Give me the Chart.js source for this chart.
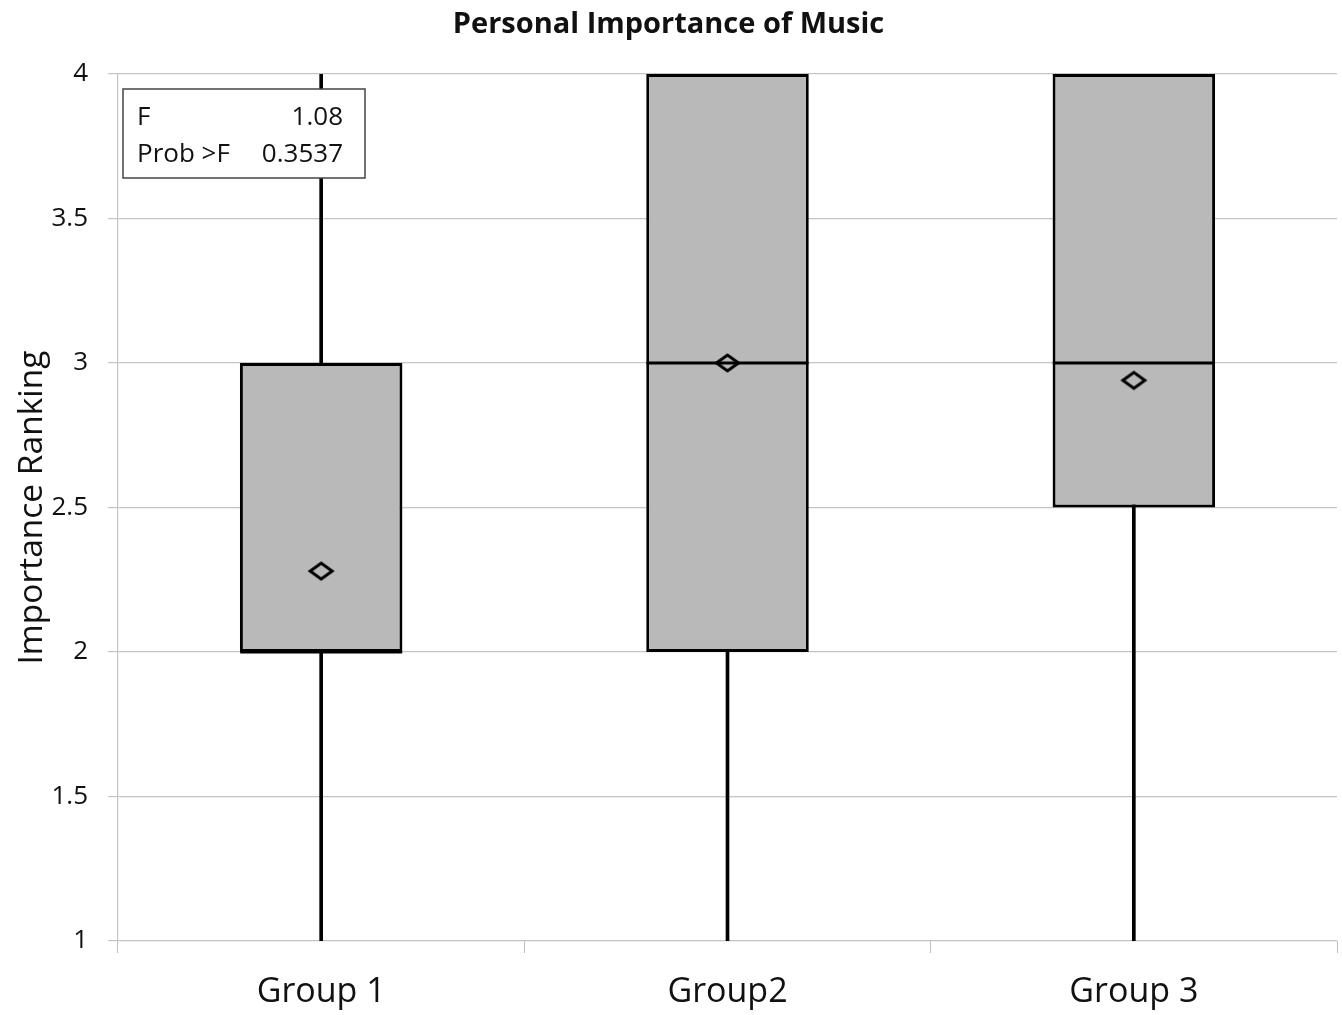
<!DOCTYPE html>
<html>
<head>
<meta charset="utf-8">
<style>
  html, body { margin: 0; padding: 0; background: #fff; }
  #wrap { width: 1342px; height: 1015px; }
</style>
<script src="https://cdn.jsdelivr.net/npm/chart.js@4/dist/chart.umd.min.js"></script>
</head>
<body>
<div id="wrap"><canvas id="c" width="1342" height="1015"></canvas></div>
<script>
// Box-plot summary per group
const groups   = ['Group 1', 'Group2', 'Group 3'];
const mins     = [1, 1, 1];
const q1s      = [2, 2, 2.5];
const medians  = [2, 3, 3];
const q3s      = [3, 4, 4];
const maxs     = [4, 4, 4];
const means    = [2.28, 3.0, 2.94];
const yTicks   = [1, 1.5, 2, 2.5, 3, 3.5, 4];
const anovaRows = [['F', '1.08'], ['Prob >F', '0.3537']];

const FONT = '"Open Sans", "Noto Sans", sans-serif';

// Flattened diamond marker for the group means
function diamondMarker() {
  const c = document.createElement('canvas');
  c.width = 28; c.height = 22;
  const g = c.getContext('2d');
  g.strokeStyle = '#000';
  g.lineWidth = 3;
  g.lineJoin = 'miter';
  g.beginPath();
  g.moveTo(3, 11); g.lineTo(14, 3); g.lineTo(25, 11); g.lineTo(14, 19); g.closePath();
  g.stroke();
  return c;
}

// ANOVA summary box drawn in the upper-left of the plot area
const anovaBox = {
  id: 'anovaBox',
  afterDatasetsDraw(chart) {
    const { ctx, chartArea } = chart;
    const x = chartArea.left + 5, y = chartArea.top + 15, w = 242, h = 89;
    ctx.save();
    ctx.fillStyle = '#fff';
    ctx.fillRect(x, y, w, h);
    ctx.strokeStyle = '#444';
    ctx.lineWidth = 1.5;
    ctx.strokeRect(x, y, w, h);
    ctx.fillStyle = '#111';
    ctx.font = '26px ' + FONT;
    ctx.textBaseline = 'middle';
    anovaRows.forEach((r, i) => {
      const ty = y + 29 + i * 37;
      ctx.textAlign = 'left';
      ctx.fillText(r[0], x + 14, ty);
      ctx.textAlign = 'right';
      ctx.fillText(r[1], x + 220, ty);
    });
    ctx.restore();
  }
};

new Chart(document.getElementById('c'), {
  data: {
    labels: groups,
    datasets: [
      {
        type: 'line', label: 'Mean', data: means,
        showLine: false, pointStyle: diamondMarker(),
        pointRadius: 11, pointHoverRadius: 11, order: 0
      },
      {
        type: 'line', label: 'Median', data: medians,
        showLine: false, pointStyle: 'line', pointRadius: 81, pointHoverRadius: 81,
        pointBorderColor: '#000', pointBorderWidth: 3, order: 1
      },
      {
        type: 'bar', label: 'IQR', data: groups.map((_, i) => [q1s[i], q3s[i]]),
        backgroundColor: '#b9b9b9', borderColor: '#000', borderWidth: 3,
        borderSkipped: false, grouped: false,
        categoryPercentage: 1, barPercentage: 0.4, order: 2
      },
      {
        type: 'bar', label: 'Range', data: groups.map((_, i) => [mins[i], maxs[i]]),
        backgroundColor: '#000', borderWidth: 0, grouped: false,
        barThickness: 3, order: 3
      }
    ]
  },
  options: {
    responsive: false,
    animation: false,
    events: [],
    layout: { autoPadding: false, padding: { left: 0, right: 5, top: 0, bottom: 0 } },
    plugins: {
      legend: { display: false },
      tooltip: { enabled: false },
      title: {
        display: true, text: 'Personal Importance of Music', color: '#111',
        font: { family: FONT, size: 29, weight: 'bold', lineHeight: 1.2 },
        padding: { top: 7, bottom: 32.2 }
      }
    },
    scales: {
      x: {
        type: 'category',
        offset: true,
        grid: { offset: true, drawOnChartArea: false, drawTicks: true, tickLength: 12, color: '#bfbfbf' },
        border: { display: false },
        ticks: { color: '#111', font: { family: FONT, size: 34 }, padding: 19 },
        afterFit(s) { s.height = 74; s.paddingLeft = 0; s.paddingRight = 0; }
      },
      y: {
        min: 1, max: 4,
        afterBuildTicks(s) { s.ticks = yTicks.map(v => ({ value: v })); },
        grid: { color: '#c4c4c4', lineWidth: 1.2, tickLength: 10 },
        border: { display: true, color: '#c4c4c4', width: 1.2 },
        ticks: {
          color: '#111', font: { family: FONT, size: 26 }, padding: 20,
          callback: v => String(v)
        },
        title: {
          display: true, text: 'Importance Ranking', color: '#111',
          font: { family: FONT, size: 33.5 }, padding: { top: 12, bottom: 0 }
        },
        afterFit(s) { s.width = 118; s.paddingTop = 0; s.paddingBottom = 0; }
      }
    }
  },
  plugins: [anovaBox]
});
</script>
</body>
</html>
